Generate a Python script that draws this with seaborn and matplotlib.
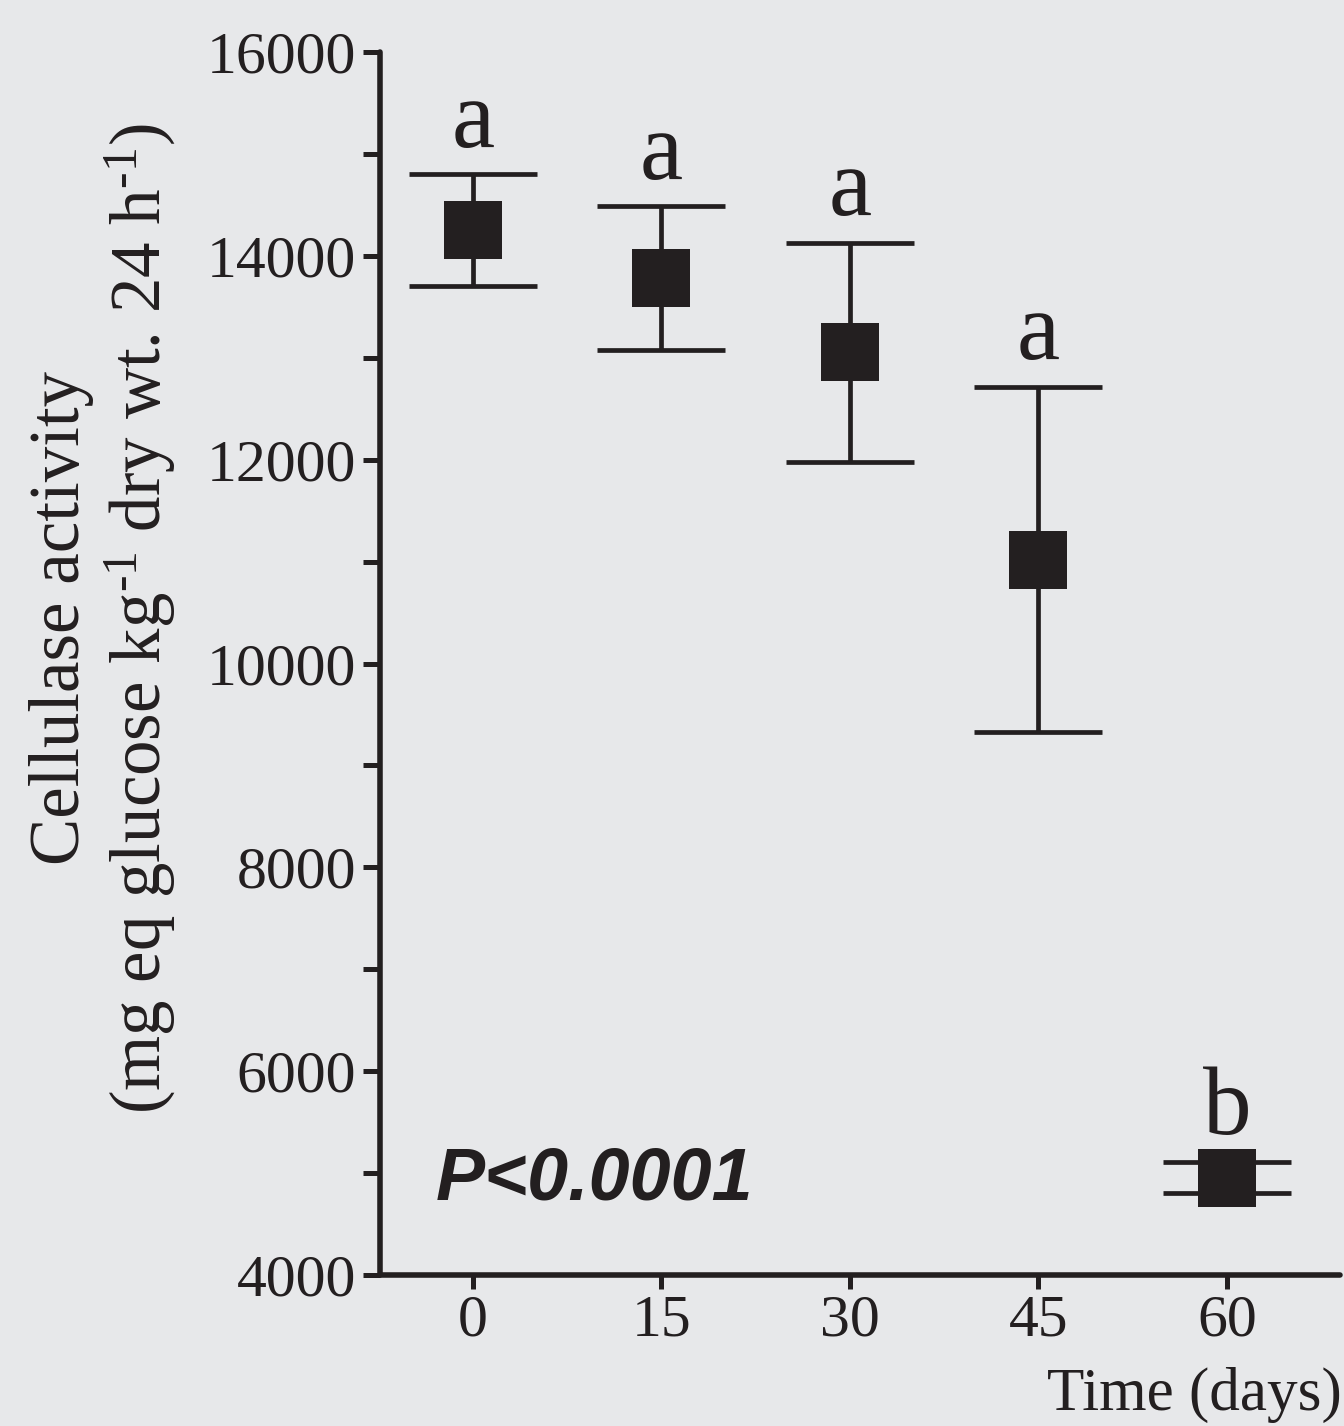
import matplotlib
matplotlib.use("Agg")
import matplotlib.pyplot as plt
from matplotlib.ticker import MultipleLocator
import seaborn as sns
import pandas as pd

# ---- data ----
days = [0, 15, 30, 45, 60]
means = [14250, 13780, 13055, 11020, 4955]
sem = [550, 705, 1075, 1695, 152]
letters = ["a", "a", "a", "a", "b"]
y_ticks = [4000, 6000, 8000, 10000, 12000, 14000, 16000]
x_ticks = [0, 15, 30, 45, 60]

df = pd.DataFrame({"day": days, "mean": means, "sem": sem})

INK = "#231f20"
BG = "#e7e8ea"

sns.set_theme(style="ticks")
plt.rcParams["font.family"] = ["Liberation Serif", "DejaVu Serif"]
plt.rcParams["mathtext.fontset"] = "custom"
plt.rcParams["mathtext.rm"] = "Liberation Serif"
plt.rcParams["mathtext.it"] = "Liberation Serif:italic"

fig = plt.figure(figsize=(13.44, 14.26), dpi=100, facecolor=BG)
ax = fig.add_axes([0.2827, 0.1059, 0.7143, 0.8576])
ax.set_facecolor(BG)

ax.errorbar(df["day"], df["mean"], yerr=df["sem"], fmt="none", ecolor=INK,
            elinewidth=3.4, capsize=46, capthick=3.4, zorder=2)
sns.scatterplot(data=df, x="day", y="mean", marker="s", s=1750, color=INK,
                edgecolor="none", linewidth=0, zorder=3, ax=ax, legend=False)

for d, m, e, l in zip(days, means, sem, letters):
    ax.annotate(l, (d, m + e), xytext=(0, 20), textcoords="offset points",
                ha="center", va="baseline", fontsize=70, color=INK)

ax.text(-3.0, 4740, "P<0.0001", fontsize=53, fontweight="bold", fontstyle="italic",
        family=["Liberation Sans", "DejaVu Sans"], color=INK, ha="left", va="baseline")

ax.set_xlim(-7.4, 69)
ax.set_ylim(4000, 16000)
ax.set_xticks(x_ticks)
ax.set_xticklabels([str(v) for v in x_ticks])
ax.set_yticks(y_ticks)
ax.set_yticklabels([str(v) for v in y_ticks])
ax.yaxis.set_minor_locator(MultipleLocator(1000))

for side in ["top", "right"]:
    ax.spines[side].set_visible(False)
for side in ["left", "bottom"]:
    ax.spines[side].set_linewidth(4.0)
    ax.spines[side].set_color(INK)
    ax.spines[side].set_capstyle("round")

ax.tick_params(axis="y", which="both", direction="out", length=12, width=3.6,
               color=INK, labelsize=43, labelcolor=INK, pad=5)
ax.tick_params(axis="x", which="major", direction="out", length=10, width=3.6,
               color=INK, labelsize=43, labelcolor=INK, pad=4)
ax.set_xlabel("")
ax.set_ylabel("")

fig.text(103 / 1344, 1 - 618 / 1426,
         "Cellulase activity\n(mg eq glucose kg$^{\\text{-1}}$ dry wt. 24 h$^{\\text{-1}}$)",
         rotation=90, ha="center", va="center", multialignment="center",
         fontsize=51, color=INK, linespacing=1.15)
fig.text(0.998, 1 - 1410 / 1426, "Time (days)", ha="right", va="baseline",
         fontsize=44, color=INK)

fig.savefig("out.png", dpi=100, facecolor=BG)
